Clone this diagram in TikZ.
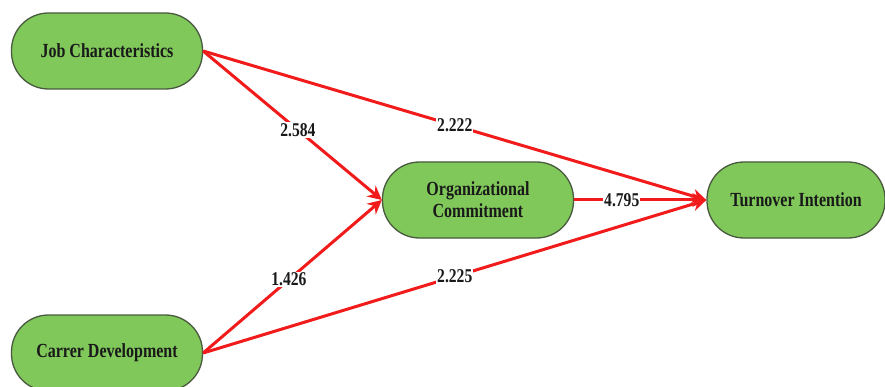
\documentclass[tikz,border=0pt]{standalone}
\usepackage{fontspec}
\setmainfont{Liberation Serif}[FakeStretch=0.8]
\usetikzlibrary{arrows.meta}
\definecolor{boxgreen}{HTML}{80C85A}
\definecolor{boxline}{HTML}{4A5A40}
\definecolor{arrred}{HTML}{F21B1B}
\tikzset{
  construct/.style={draw=boxline, line width=1.3pt, fill=boxgreen, rounded corners=37pt,
    minimum width=191pt, minimum height=76pt, align=center, inner sep=2pt,
    font=\fontsize{20}{22}\selectfont\bfseries, text=black!90},
  path/.style={draw=arrred, line width=3pt, -{Stealth[length=14pt,width=14pt]}},
  coef/.style={fill=white, inner sep=1pt, font=\fontsize{19.5}{22}\selectfont\bfseries, text=black!90}
}
\begin{document}
\begin{tikzpicture}[x=1pt,y=-1pt]
\clip (0,0) rectangle (885,387);
\fill[white] (0,0) rectangle (885,387);
\node[construct] (jc) at (107,51) {Job Characteristics};
\node[construct] (cd) at (107,353) {Carrer Development};
\node[construct] (oc) at (478,200) {Organizational\\Commitment};
\node[construct, minimum width=178pt] (ti) at (796,200) {Turnover Intention};
\draw[path] (jc.east) -- node[coef, pos=0.53] {2.584} (oc.west);
\draw[path] (jc.east) -- node[coef, pos=0.5] {2.222} (ti.west);
\draw[path] (cd.east) -- node[coef, pos=0.48] {1.426} (oc.west);
\draw[path] (cd.east) -- node[coef, pos=0.5] {2.225} (ti.west);
\draw[path] (oc.east) -- node[coef, pos=0.36] {4.795} (ti.west);
\end{tikzpicture}
\end{document}
